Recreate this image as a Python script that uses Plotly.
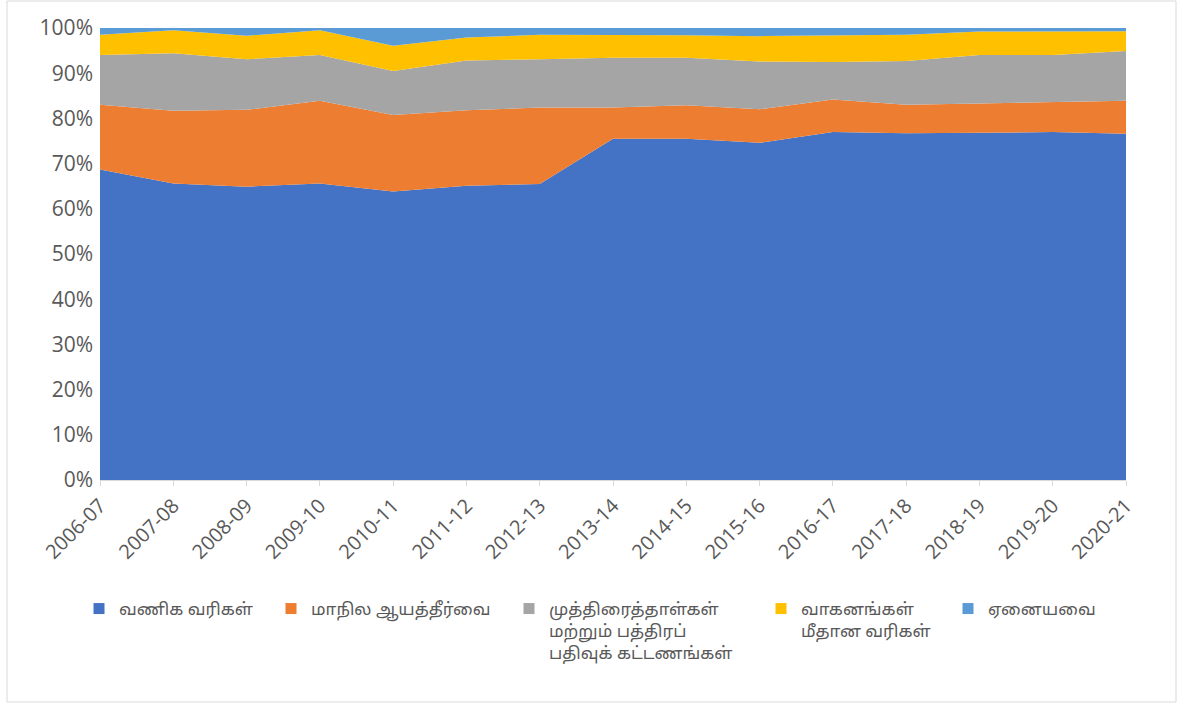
import plotly.graph_objects as go

years = ["2006-07", "2007-08", "2008-09", "2009-10", "2010-11", "2011-12", "2012-13",
         "2013-14", "2014-15", "2015-16", "2016-17", "2017-18", "2018-19", "2019-20", "2020-21"]

commercial_taxes = [68.7, 65.6, 64.9, 65.6, 63.8, 65.1, 65.5, 75.5, 75.5, 74.6, 77.0, 76.7, 76.8, 77.0, 76.6]
state_excise = [14.3, 16.1, 17.0, 18.3, 16.95, 16.7, 16.9, 6.9, 7.4, 7.4, 7.2, 6.3, 6.5, 6.6, 7.3]
stamps_registration = [11.0, 12.7, 11.2, 10.1, 9.75, 11.0, 10.7, 11.0, 10.5, 10.6, 8.3, 9.7, 10.7, 10.4, 11.0]
vehicle_taxes = [4.5, 5.1, 5.2, 5.5, 5.6, 5.1, 5.4, 5.1, 5.0, 5.6, 5.9, 5.8, 5.2, 5.2, 4.4]
others = [1.5, 0.5, 1.7, 0.5, 3.9, 2.1, 1.5, 1.5, 1.6, 1.8, 1.6, 1.5, 0.8, 0.8, 0.7]

series_names = ["வணிக வரிகள்", "மாநில ஆயத்தீர்வை",
                "முத்திரைத்தாள்கள்<br>மற்றும் பத்திரப்<br>பதிவுக் கட்டணங்கள்",
                "வாகனங்கள்<br>மீதான வரிகள்", "ஏனையவை"]
series_values = [commercial_taxes, state_excise, stamps_registration, vehicle_taxes, others]
colors = ["#4472C4", "#ED7D31", "#A5A5A5", "#FFC000", "#5B9BD5"]

# page pixel geometry (body margin removed in post_script)
W, H = 1183, 706
L, R, T, B = 100, 1126, 28, 480
pw, ph = R - L, B - T

def px_x(x):
    return (x - L) / pw

def px_y(y):
    return (B - y) / ph

font_family = "'Open Sans', 'Noto Sans', 'Noto Sans Tamil', Lato, sans-serif"
txt_color = "#595959"

fig = go.Figure()
legend_keys = ["legend", "legend2", "legend3", "legend4", "legend5"]
for name, vals, col in zip(series_names, series_values, colors):
    fig.add_trace(go.Scatter(
        x=years, y=vals, name=name, mode="lines", stackgroup="one",
        line=dict(width=0, color=col), fillcolor=col, showlegend=False,
    ))
# legend-only entries with square swatches
for name, col, lk in zip(series_names, colors, legend_keys):
    fig.add_trace(go.Scatter(
        x=[None], y=[None], name=name, mode="markers",
        marker=dict(symbol="square", size=11, color=col), legend=lk,
        showlegend=True, hoverinfo="skip",
    ))

legend_px = [79, 271, 509, 761, 948]
layout_legends = {}
for lk, lx in zip(legend_keys, legend_px):
    layout_legends[lk] = dict(
        x=px_x(lx), y=px_y(591), xanchor="left", yanchor="top",
        font=dict(family=font_family, size=17, color=txt_color),
        bgcolor="rgba(0,0,0,0)", itemwidth=30, valign="top",
        tracegroupgap=0,
    )

fig.update_layout(
    width=W, height=H,
    margin=dict(l=L, r=W - R, t=T, b=H - B),
    paper_bgcolor="white", plot_bgcolor="white",
    font=dict(family=font_family, size=18, color=txt_color),
    showlegend=True,
    xaxis=dict(
        type="category", range=[0, len(years) - 1], tickangle=-45,
        showgrid=False, showline=True, linecolor="#d9d9d9", linewidth=1,
        ticks="outside", ticklen=5, tickcolor="#d9d9d9",
        tickfont=dict(family=font_family, size=20, color=txt_color),
    ),
    yaxis=dict(
        range=[0, 100], dtick=10, ticksuffix="%",
        showgrid=True, gridcolor="#d9d9d9", gridwidth=1,
        zeroline=False, showline=False, ticklabelstandoff=6,
        tickfont=dict(family=font_family, size=21, color=txt_color),
    ),
    shapes=[dict(
        type="rect", xref="paper", yref="paper",
        x0=px_x(7), x1=px_x(1176), y0=px_y(702), y1=px_y(1),
        line=dict(color="#d9d9d9", width=1), fillcolor="rgba(0,0,0,0)", layer="below",
    )],
    **layout_legends,
)

fig.write_html("out.html", config={"displayModeBar": False},
               post_script="document.body.style.margin='0';")
